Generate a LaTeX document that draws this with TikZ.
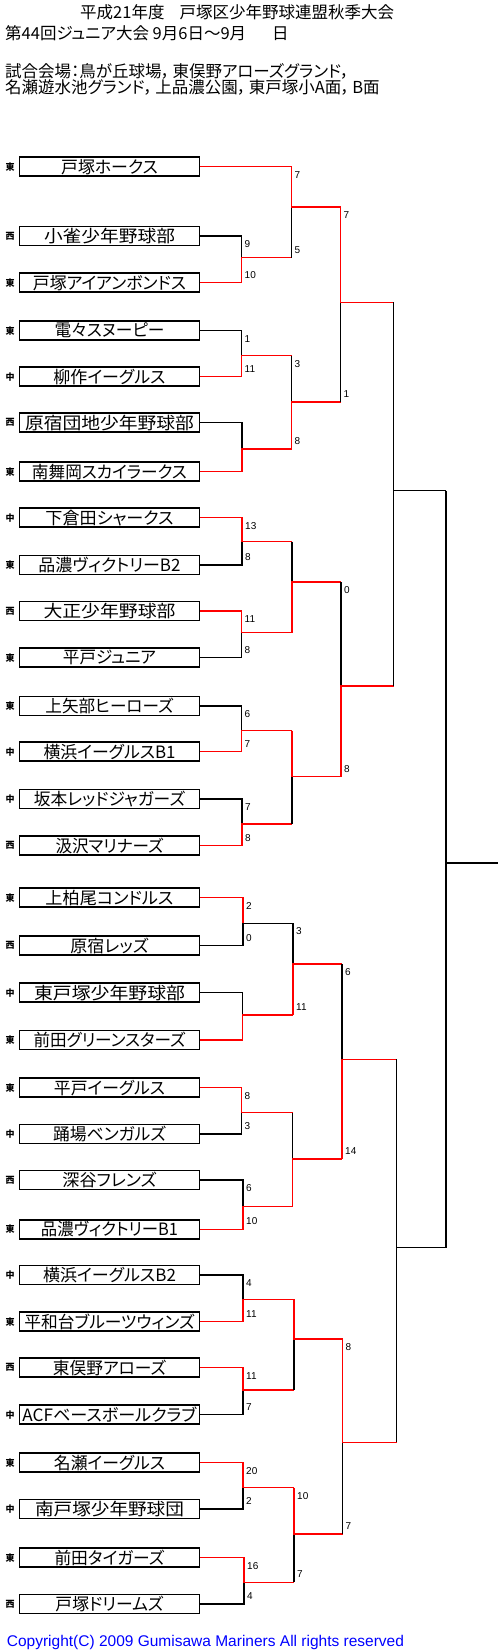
\documentclass[tikz,border=0pt]{standalone}
\usepackage{fontspec}
\setmainfont{Liberation Sans}
\newfontfamily\jpfont[RawFeature=+palt]{Noto Sans CJK JP}
\usetikzlibrary{positioning}
\newcommand{\tname}[2]{\resizebox{#1pt}{\height}{#2}}

\begin{document}
\begin{tikzpicture}[x=1pt, y=-1pt,
  team/.style={draw, line width=1.5pt, fill=white, minimum width=180pt, minimum height=19pt, inner sep=0pt, font=\jpfont\fontsize{17}{17}\selectfont},
  side/.style={inner sep=0pt, font=\jpfont\bfseries\fontsize{9}{9}\selectfont},
  head/.style={anchor=west, inner sep=0pt, font=\jpfont\fontsize{16.5}{16.5}\selectfont},
  win/.style={draw=red, line width=1.45pt},
  lose/.style={draw=black, line width=1.45pt},
  score/.style={anchor=west, inner sep=0pt, xshift=3pt, font=\fontsize{10}{10}\selectfont}]
\useasboundingbox (0,0) rectangle (498,1650);

% header
\node[head] (title) at (80,12.7) {平成21年度\hspace{15pt}戸塚区少年野球連盟秋季大会};
\node[head] (sub) at (5,33.3) {第44回ジュニア大会 9月6日～9月\hspace{26pt}日};
\node[head] (place1) at (5,71) {試合会場：鳥が丘球場，\,東俣野アローズグランド，};
\node[head] (place2) at (5,87.3) {名瀬遊水池グランド，\,上品濃公園，\,東戸塚小A面，\,B面};

% teams
\node[team] (t1) at (109.5,166.7) {\tname{96.7}{戸塚ホークス}};
\node[team] (t2) at (109.5,236) {\tname{131}{小雀少年野球部}};
\node[team] (t3) at (109.5,282.7) {\tname{153}{戸塚アイアンボンドス}};
\node[team] (t4) at (109.5,330.7) {\tname{110}{電々スヌーピー}};
\node[team] (t5) at (109.5,376.7) {\tname{112}{柳作イーグルス}};
\node[team] (t6) at (109.5,422.7) {\tname{169}{原宿団地少年野球部}};
\node[team] (t7) at (109.5,471.7) {\tname{155}{南舞岡スカイラークス}};
\node[team] (t8) at (109.5,517.7) {\tname{128}{下倉田シャークス}};
\node[team] (t9) at (109.5,565) {\tname{142}{品濃ヴィクトリーB2}};
\node[team] (t10) at (109.5,611) {\tname{132}{大正少年野球部}};
\node[team] (t11) at (109.5,657.7) {\tname{93}{平戸ジュニア}};
\node[team] (t12) at (109.5,706) {\tname{128}{上矢部ヒーローズ}};
\node[team] (t13) at (109.5,751.7) {\tname{132}{横浜イーグルスB1}};
\node[team] (t14) at (109.5,799) {\tname{151}{坂本レッドジャガーズ}};
\node[team] (t15) at (109.5,845.7) {\tname{108}{汲沢マリナーズ}};
\node[team] (t16) at (109.5,897.7) {\tname{128}{上柏尾コンドルス}};
\node[team] (t17) at (109.5,945.7) {\tname{78}{原宿レッズ}};
\node[team] (t18) at (109.5,992.7) {\tname{151}{東戸塚少年野球部}};
\node[team] (t19) at (109.5,1040) {\tname{152}{前田グリーンスターズ}};
\node[team] (t20) at (109.5,1087.7) {\tname{111}{平戸イーグルス}};
\node[team] (t21) at (109.5,1134) {\tname{113}{踊場ベンガルズ}};
\node[team] (t22) at (109.5,1180) {\tname{94}{深谷フレンズ}};
\node[team] (t23) at (109.5,1229.3) {\tname{137}{品濃ヴィクトリーB1}};
\node[team] (t24) at (109.5,1275) {\tname{133}{横浜イーグルスB2}};
\node[team] (t25) at (109.5,1321.7) {\tname{170}{平和台ブルーツウィンズ}};
\node[team] (t26) at (109.5,1367.7) {\tname{113}{東俣野アローズ}};
\node[team] (t27) at (109.5,1414.7) {\tname{174}{ACFベースボールクラブ}};
\node[team] (t28) at (109.5,1462.7) {\tname{111}{名瀬イーグルス}};
\node[team] (t29) at (109.5,1509) {\tname{149}{南戸塚少年野球団}};
\node[team] (t30) at (109.5,1557.7) {\tname{110}{前田タイガーズ}};
\node[team] (t31) at (109.5,1604) {\tname{108}{戸塚ドリームズ}};

% areas
\node[side, left=4pt of t1.west] (a1) {東};
\node[side, left=4pt of t2.west] (a2) {西};
\node[side, left=4pt of t3.west] (a3) {東};
\node[side, left=4pt of t4.west] (a4) {東};
\node[side, left=4pt of t5.west] (a5) {中};
\node[side, left=4pt of t6.west] (a6) {西};
\node[side, left=4pt of t7.west] (a7) {東};
\node[side, left=4pt of t8.west] (a8) {中};
\node[side, left=4pt of t9.west] (a9) {東};
\node[side, left=4pt of t10.west] (a10) {西};
\node[side, left=4pt of t11.west] (a11) {東};
\node[side, left=4pt of t12.west] (a12) {東};
\node[side, left=4pt of t13.west] (a13) {中};
\node[side, left=4pt of t14.west] (a14) {中};
\node[side, left=4pt of t15.west] (a15) {西};
\node[side, left=4pt of t16.west] (a16) {東};
\node[side, left=4pt of t17.west] (a17) {西};
\node[side, left=4pt of t18.west] (a18) {中};
\node[side, left=4pt of t19.west] (a19) {東};
\node[side, left=4pt of t20.west] (a20) {東};
\node[side, left=4pt of t21.west] (a21) {中};
\node[side, left=4pt of t22.west] (a22) {西};
\node[side, left=4pt of t23.west] (a23) {東};
\node[side, left=4pt of t24.west] (a24) {中};
\node[side, left=4pt of t25.west] (a25) {東};
\node[side, left=4pt of t26.west] (a26) {西};
\node[side, left=4pt of t27.west] (a27) {中};
\node[side, left=4pt of t28.west] (a28) {東};
\node[side, left=4pt of t29.west] (a29) {中};
\node[side, left=4pt of t30.west] (a30) {東};
\node[side, left=4pt of t31.west] (a31) {西};

% junctions
\coordinate (jA) at (241.5,257.7);
\coordinate (jB) at (241.5,355.7);
\coordinate (jC) at (242,449);
\coordinate (jD) at (242,541.7);
\coordinate (jE) at (241.5,632.7);
\coordinate (jF) at (241.5,730.7);
\coordinate (jG) at (242,824);
\coordinate (jH) at (243,923.3);
\coordinate (jI) at (242.5,1015);
\coordinate (jJ) at (241.5,1112.7);
\coordinate (jK) at (243,1206.7);
\coordinate (jL) at (243,1299.3);
\coordinate (jM) at (243,1390);
\coordinate (jN) at (243,1487.7);
\coordinate (jO) at (244,1582.3);
\coordinate (jP) at (291.5,207);
\coordinate (jQ) at (291.5,402);
\coordinate (jR) at (292,582);
\coordinate (jS) at (292,776.7);
\coordinate (jT) at (293,964);
\coordinate (jU) at (292.5,1159);
\coordinate (jV) at (294,1339);
\coordinate (jW) at (294,1534);
\coordinate (jPQ) at (340.5,302.3);
\coordinate (jRS) at (341,686);
\coordinate (jTU) at (342,1059.3);
\coordinate (jVW) at (342.5,1442.3);
\coordinate (jUp) at (393.5,490.7);
\coordinate (jLo) at (396.5,1247.7);
\coordinate (jFin) at (446,863);
\coordinate (out) at (498,863);

% first round
\draw[lose] (t2.east) -| (jA);
\draw[win] (t3.east) -| (jA) -- (jA -| jP);
\draw[lose] (t4.east) -| (jB);
\draw[win] (t5.east) -| (jB) -- (jB -| jQ);
\draw[lose] (t6.east) -| (jC);
\draw[win] (t7.east) -| (jC) -- (jC -| jQ);
\draw[lose] (t9.east) -| (jD);
\draw[win] (t8.east) -| (jD) -- (jD -| jR);
\draw[lose] (t11.east) -| (jE);
\draw[win] (t10.east) -| (jE) -- (jE -| jR);
\draw[lose] (t12.east) -| (jF);
\draw[win] (t13.east) -| (jF) -- (jF -| jS);
\draw[lose] (t14.east) -| (jG);
\draw[win] (t15.east) -| (jG) -- (jG -| jS);
\draw[lose] (t17.east) -| (jH) -- (jH -| jT);
\draw[win] (t16.east) -| (jH);
\draw[lose] (t18.east) -| (jI);
\draw[win] (t19.east) -| (jI) -- (jI -| jT);
\draw[lose] (t21.east) -| (jJ);
\draw[win] (t20.east) -| (jJ) -- (jJ -| jU);
\draw[lose] (t22.east) -| (jK);
\draw[win] (t23.east) -| (jK) -- (jK -| jU);
\draw[lose] (t24.east) -| (jL);
\draw[win] (t25.east) -| (jL) -- (jL -| jV);
\draw[lose] (t27.east) -| (jM);
\draw[win] (t26.east) -| (jM) -- (jM -| jV);
\draw[lose] (t29.east) -| (jN);
\draw[win] (t28.east) -| (jN) -- (jN -| jW);
\draw[lose] (t31.east) -| (jO);
\draw[win] (t30.east) -| (jO) -- (jO -| jW);

% second round
\draw[lose] (jA -| jP) -- (jP);
\draw[win] (t1.east) -| (jP) -- (jP -| jPQ);
\draw[lose] (jB -| jQ) -- (jQ);
\draw[win] (jC -| jQ) -- (jQ) -- (jQ -| jPQ);
\draw[lose] (jD -| jR) -- (jR);
\draw[win] (jE -| jR) -- (jR) -- (jR -| jRS);
\draw[lose] (jG -| jS) -- (jS);
\draw[win] (jF -| jS) -- (jS) -- (jS -| jRS);
\draw[lose] (jH -| jT) -- (jT);
\draw[win] (jI -| jT) -- (jT) -- (jT -| jTU);
\draw[lose] (jJ -| jU) -- (jU);
\draw[win] (jK -| jU) -- (jU) -- (jU -| jTU);
\draw[lose] (jM -| jV) -- (jV);
\draw[win] (jL -| jV) -- (jV) -- (jV -| jVW);
\draw[lose] (jO -| jW) -- (jW);
\draw[win] (jN -| jW) -- (jW) -- (jW -| jVW);

% third round
\draw[lose] (jQ -| jPQ) -- (jPQ);
\draw[win] (jP -| jPQ) -- (jPQ) -- (jPQ -| jUp);
\draw[lose] (jR -| jRS) -- (jRS);
\draw[win] (jS -| jRS) -- (jRS) -- (jRS -| jUp);
\draw[lose] (jT -| jTU) -- (jTU);
\draw[win] (jU -| jTU) -- (jTU) -- (jTU -| jLo);
\draw[lose] (jW -| jVW) -- (jVW);
\draw[win] (jV -| jVW) -- (jVW) -- (jVW -| jLo);

% semi-finals and final
\draw[lose] (jPQ -| jUp) -- (jRS -| jUp);
\draw[lose] (jUp) -- (jUp -| jFin);
\draw[lose] (jTU -| jLo) -- (jVW -| jLo);
\draw[lose] (jLo) -- (jLo -| jFin);
\draw[lose] (jUp -| jFin) -- (jLo -| jFin);
\draw[lose] (jFin) -- (out);

% scores
\node[score, yshift=-8pt] (sA1) at (t2.east -| jA) {9};
\node[score, yshift=8pt] (sA2) at (t3.east -| jA) {10};
\node[score, yshift=-8pt] (sB1) at (t4.east -| jB) {1};
\node[score, yshift=8pt] (sB2) at (t5.east -| jB) {11};
\node[score, yshift=-8pt] (sD1) at (t8.east -| jD) {13};
\node[score, yshift=8pt] (sD2) at (t9.east -| jD) {8};
\node[score, yshift=-8pt] (sE1) at (t10.east -| jE) {11};
\node[score, yshift=8pt] (sE2) at (t11.east -| jE) {8};
\node[score, yshift=-8pt] (sF1) at (t12.east -| jF) {6};
\node[score, yshift=8pt] (sF2) at (t13.east -| jF) {7};
\node[score, yshift=-8pt] (sG1) at (t14.east -| jG) {7};
\node[score, yshift=8pt] (sG2) at (t15.east -| jG) {8};
\node[score, yshift=-8pt] (sH1) at (t16.east -| jH) {2};
\node[score, yshift=8pt] (sH2) at (t17.east -| jH) {0};
\node[score, yshift=-8pt] (sJ1) at (t20.east -| jJ) {8};
\node[score, yshift=8pt] (sJ2) at (t21.east -| jJ) {3};
\node[score, yshift=-8pt] (sK1) at (t22.east -| jK) {6};
\node[score, yshift=8pt] (sK2) at (t23.east -| jK) {10};
\node[score, yshift=-8pt] (sL1) at (t24.east -| jL) {4};
\node[score, yshift=8pt] (sL2) at (t25.east -| jL) {11};
\node[score, yshift=-8pt] (sM1) at (t26.east -| jM) {11};
\node[score, yshift=8pt] (sM2) at (t27.east -| jM) {7};
\node[score, yshift=-8pt] (sN1) at (t28.east -| jN) {20};
\node[score, yshift=8pt] (sN2) at (t29.east -| jN) {2};
\node[score, yshift=-8pt] (sO1) at (t30.east -| jO) {16};
\node[score, yshift=8pt] (sO2) at (t31.east -| jO) {4};
\node[score, yshift=-8pt] (sP1) at (t1.east -| jP) {7};
\node[score, yshift=8pt] (sP2) at (jA -| jP) {5};
\node[score, yshift=-8pt] (sQ1) at (jB -| jQ) {3};
\node[score, yshift=8pt] (sQ2) at (jC -| jQ) {8};
\node[score, yshift=-8pt] (sT1) at (jH -| jT) {3};
\node[score, yshift=8pt] (sT2) at (jI -| jT) {11};
\node[score, yshift=-8pt] (sW1) at (jN -| jW) {10};
\node[score, yshift=8pt] (sW2) at (jO -| jW) {7};
\node[score, yshift=-8pt] (sPQ1) at (jP -| jPQ) {7};
\node[score, yshift=8pt] (sPQ2) at (jQ -| jPQ) {1};
\node[score, yshift=-8pt] (sRS1) at (jR -| jRS) {0};
\node[score, yshift=8pt] (sRS2) at (jS -| jRS) {8};
\node[score, yshift=-8pt] (sTU1) at (jT -| jTU) {6};
\node[score, yshift=8pt] (sTU2) at (jU -| jTU) {14};
\node[score, yshift=-8pt] (sVW1) at (jV -| jVW) {8};
\node[score, yshift=8pt] (sVW2) at (jW -| jVW) {7};

% footer
\node[anchor=base west, inner sep=0pt, text=blue, font=\fontsize{15.5}{15.5}\selectfont] (copy) at (6.7,1646) {Copyright(C) 2009 Gumisawa Mariners All rights reserved};
\end{tikzpicture}
\end{document}
